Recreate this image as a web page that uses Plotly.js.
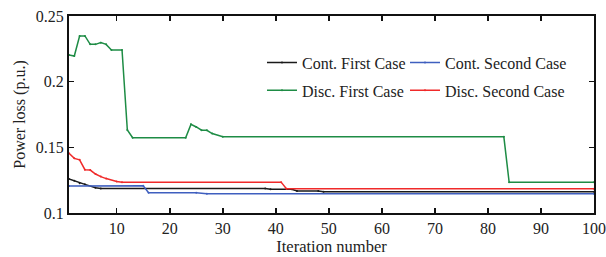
<!DOCTYPE html>
<html>
<head>
<meta charset="utf-8">
<script src="https://cdn.plot.ly/plotly-3.0.1.min.js"></script>
<style>html,body{margin:0;padding:0;background:#fff;}#chart{width:606px;height:257px;}</style>
</head>
<body>
<div id="chart"></div>
<script>
// Iteration numbers at which each curve changes (straight segments between them)
var contFirstX  = [1, 2, 3, 4, 6, 7, 38, 39, 43, 44, 48, 49, 100];
var contFirstY  = [0.1259, 0.1245, 0.1226, 0.1218, 0.1193, 0.1187, 0.1186, 0.1180, 0.1180, 0.1167, 0.1167, 0.1162, 0.1162];

var contSecondX = [1, 15, 16, 25, 27, 100];
var contSecondY = [0.1206, 0.1208, 0.1155, 0.1155, 0.1146, 0.1146];

var discFirstX  = [1, 2, 3, 4, 5, 6, 7, 8, 9, 11, 12, 13, 23, 24, 25, 26, 27, 28, 30, 83, 84, 100];
var discFirstY  = [0.2203, 0.2195, 0.2348, 0.2348, 0.2284, 0.2284, 0.2297, 0.2284, 0.2241, 0.2241, 0.1632, 0.1573, 0.1573, 0.1675, 0.1655, 0.1630, 0.1630, 0.1605, 0.1580, 0.1580, 0.1234, 0.1234];

var discSecondX = [1, 2, 3, 4, 5, 6, 7, 8, 10, 11, 41, 42, 100];
var discSecondY = [0.1455, 0.1416, 0.1405, 0.1330, 0.1327, 0.1297, 0.1277, 0.1262, 0.1240, 0.1235, 0.1235, 0.1184, 0.1184];

var xTicks = [10, 20, 30, 40, 50, 60, 70, 80, 90, 100];
var yTicks = [0.1, 0.15, 0.2, 0.25];
var yTickText = ['0.1', '0.15', '0.2', '0.25'];

var FONT = 'Liberation Serif, Times New Roman, serif';

function tr(name, x, y, color, legend, group) {
  return {
    x: x, y: y, name: name, type: 'scatter', mode: 'lines+markers',
    line: {color: color, width: 1.5},
    marker: {color: color, size: 2},
    legend: legend, legendgroup: group
  };
}

var data = [
  tr('Cont. First Case', contFirstX, contFirstY, '#1a1a1a', 'legend', 'a'),
  tr('Disc. First Case', discFirstX, discFirstY, '#1e8c45', 'legend', 'b'),
  tr('Cont. Second Case', contSecondX, contSecondY, '#3f5fbf', 'legend2', 'c'),
  tr('Disc. Second Case', discSecondX, discSecondY, '#f02a2a', 'legend2', 'd')
];

var layout = {
  width: 606, height: 257,
  margin: {l: 69, r: 12, t: 16, b: 44},
  paper_bgcolor: '#fff', plot_bgcolor: '#fff',
  font: {family: FONT, size: 16, color: '#222'},
  showlegend: true,
  xaxis: {
    range: [1, 100], tickvals: xTicks, ticks: 'inside', ticklen: 5, tickwidth: 1.5,
    tickcolor: '#111', showline: true, linecolor: '#111', linewidth: 2, mirror: 'ticks',
    showgrid: false, zeroline: false,
    tickfont: {family: FONT, size: 16, color: '#222'},
    title: {text: 'Iteration number', font: {family: FONT, size: 16.5, color: '#222'}, standoff: 2}
  },
  yaxis: {
    range: [0.1, 0.25], tickvals: yTicks, ticktext: yTickText, ticks: 'inside', ticklen: 5, tickwidth: 1.5,
    tickcolor: '#111', showline: true, linecolor: '#111', linewidth: 2, mirror: 'ticks',
    showgrid: false, zeroline: false,
    tickfont: {family: FONT, size: 16, color: '#222'},
    title: {text: 'Power loss (p.u.)', font: {family: FONT, size: 16, color: '#222'}, standoff: 6}
  },
  legend: {
    x: 0.3676, y: 0.85, xanchor: 'left', yanchor: 'top', bgcolor: 'rgba(0,0,0,0)',
    tracegroupgap: 4, font: {family: FONT, size: 16, color: '#222'}
  },
  legend2: {
    x: 0.64, y: 0.85, xanchor: 'left', yanchor: 'top', bgcolor: 'rgba(0,0,0,0)',
    tracegroupgap: 4, font: {family: FONT, size: 16, color: '#222'}
  }
};

Plotly.newPlot('chart', data, layout, {displayModeBar: false, staticPlot: true});
</script>
</body>
</html>
